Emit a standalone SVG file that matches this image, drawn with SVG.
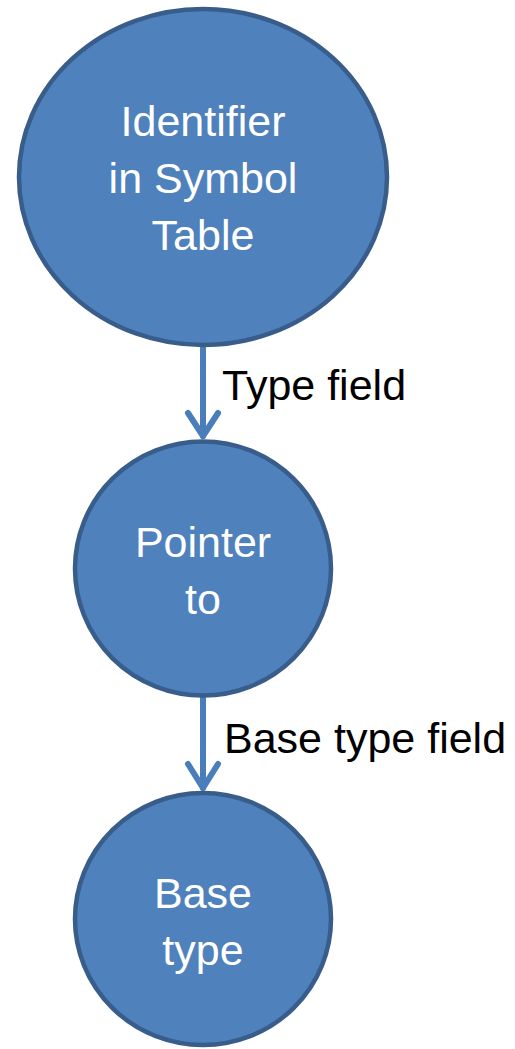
<svg xmlns="http://www.w3.org/2000/svg" width="515" height="1049" viewBox="0 0 515 1049">
  <style>
    .node { fill: #4f81bd; stroke: #385d8a; stroke-width: 4.5; }
    .ntext { font-family: "Liberation Sans", Arial, sans-serif; font-size: 43px; fill: #ffffff; text-anchor: middle; }
    .edge { fill: none; stroke: #4a7ebb; stroke-width: 6; stroke-linecap: round; stroke-linejoin: round; }
    .etext { font-family: "Liberation Sans", Arial, sans-serif; font-size: 43px; fill: #000000; }
  </style>
  <rect width="515" height="1049" fill="#ffffff"/>
  <g id="connectors">
    <g id="edge-type-field">
      <line class="edge" x1="203" y1="348" x2="203" y2="436"/>
      <polyline class="edge" points="188,413 203,436 218,413"/>
      <text class="etext" x="222" y="400">Type field</text>
    </g>
    <g id="edge-base-type-field">
      <line class="edge" x1="203" y1="698" x2="203" y2="788"/>
      <polyline class="edge" points="188,764 203,788 218,764"/>
      <text class="etext" x="224" y="753">Base type field</text>
    </g>
  </g>
  <g id="node-identifier">
    <ellipse class="node" cx="203" cy="177" rx="184" ry="168"/>
    <text class="ntext" x="203" y="136">Identifier</text>
    <text class="ntext" x="203" y="193">in Symbol</text>
    <text class="ntext" x="203" y="250">Table</text>
  </g>
  <g id="node-pointer">
    <ellipse class="node" cx="203" cy="568.5" rx="128" ry="127"/>
    <text class="ntext" x="203" y="557">Pointer</text>
    <text class="ntext" x="203" y="614">to</text>
  </g>
  <g id="node-base-type">
    <ellipse class="node" cx="203" cy="919" rx="128" ry="126"/>
    <text class="ntext" x="203" y="908">Base</text>
    <text class="ntext" x="203" y="965">type</text>
  </g>
</svg>
